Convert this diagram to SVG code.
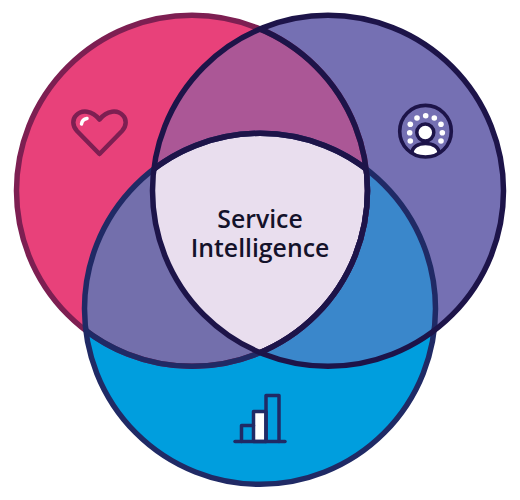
<svg xmlns="http://www.w3.org/2000/svg" width="520" height="500" viewBox="0 0 520 500">
<style>
.ring{fill:none;stroke-width:5.500}
.maroon{stroke:#7d1f52}.navy{stroke:#202a65}.dark{stroke:#1d1449}
.lbl{font-family:"Open Sans","Noto Sans",sans-serif;font-weight:600;font-size:24.800px;fill:#14122a;text-anchor:middle}
</style>
<defs>
<clipPath id="cL"><circle cx="192" cy="190.800" r="176.500"/></clipPath>
<clipPath id="cR"><circle cx="328" cy="190.800" r="176.500"/></clipPath>
<clipPath id="cB"><circle cx="260" cy="308.800" r="176.500"/></clipPath>
<clipPath id="cLin"><circle cx="192" cy="190.800" r="175.500"/></clipPath>
<clipPath id="cRin"><circle cx="328" cy="190.800" r="175.500"/></clipPath>
<clipPath id="cIcon"><circle cx="425.500" cy="131" r="25"/></clipPath>
</defs>
<rect width="520" height="500" fill="#fff"/>
<g id="circle-left"><circle cx="192" cy="190.800" r="175.500" fill="#e8417a"/></g>
<g id="circle-right"><circle cx="328" cy="190.800" r="175.500" fill="#7570b3"/></g>
<g id="circle-bottom"><circle cx="260" cy="308.800" r="175.500" fill="#009ede"/></g>
<g id="overlaps">
<g clip-path="url(#cLin)"><circle cx="328" cy="190.800" r="175.500" fill="#ab5796"/><circle cx="260" cy="308.800" r="175.500" fill="#736fac"/></g>
<g clip-path="url(#cRin)"><circle cx="260" cy="308.800" r="175.500" fill="#3a87cb"/></g>
<g clip-path="url(#cLin)"><g clip-path="url(#cRin)"><circle cx="260" cy="308.800" r="175.500" fill="#e9deee"/></g></g>
</g>
<g id="outlines">
<circle class="ring maroon" cx="192" cy="190.800" r="175.500"/>
<circle class="ring navy" cx="260" cy="308.800" r="175.500"/>
<g clip-path="url(#cB)"><circle class="ring navy" cx="192" cy="190.800" r="175.500"/></g>
<circle class="ring dark" cx="328" cy="190.800" r="175.500"/>
<g clip-path="url(#cR)"><circle class="ring dark" cx="192" cy="190.800" r="175.500"/></g>
<g clip-path="url(#cL)"><g clip-path="url(#cR)"><circle class="ring dark" cx="260" cy="308.800" r="175.500"/></g></g>
</g>
<g id="icon-heart">
<path d="M99.500 154 L77 131 C72 125.500 72.500 119 76 115.500 C81.500 109.500 92 110 99.500 119.500 C107 110 117.500 109.500 123 115.500 C126.500 119 127 125.500 122 131 Z" fill="none" stroke="#7d1f52" stroke-width="4.500" stroke-linejoin="round"/>
<path d="M81.500 124 C82 120.500 84 119 87 118.500" fill="none" stroke="#fff" stroke-width="3.500" stroke-linecap="round"/>
</g>
<g id="icon-person">
<g fill="#fff">
<circle cx="425.700" cy="115.700" r="2.800"/><circle cx="417" cy="118" r="2.800"/><circle cx="434.300" cy="118" r="2.800"/>
<circle cx="410.300" cy="124.300" r="2.800"/><circle cx="441" cy="124.300" r="2.800"/>
<circle cx="409.700" cy="132.700" r="2.800"/><circle cx="442.300" cy="132.700" r="2.800"/>
<circle cx="410.300" cy="141" r="2.800"/><circle cx="441" cy="141" r="2.800"/>
</g>
<g clip-path="url(#cIcon)">
<path d="M412 164 L412 153 C412 147 418 143.500 425.500 143.500 C433 143.500 439 147 439 153 L439 164 Z" fill="#fff" stroke="#1d1449" stroke-width="3.500"/>
</g>
<circle cx="425.500" cy="131.200" r="25.800" fill="none" stroke="#1d1449" stroke-width="3.600"/>
<circle cx="425.300" cy="132.500" r="8.500" fill="#fff" stroke="#1d1449" stroke-width="3.500"/>
</g>
<g id="icon-bars" fill="none" stroke="#202a65" stroke-width="3.500" stroke-linejoin="round" stroke-linecap="round">
<rect x="253.500" y="411.500" width="12.500" height="30" fill="#fff"/>
<path d="M241.500 441.500 V425.500 H253.500"/>
<path d="M266 441.500 V395.500 H279 V441.500"/>
<path d="M235 441.500 H285"/>
</g>
<g id="label">
<text class="lbl"><tspan x="260" y="228">Service</tspan><tspan x="260" y="257.300">Intelligence</tspan></text>
</g>
</svg>
